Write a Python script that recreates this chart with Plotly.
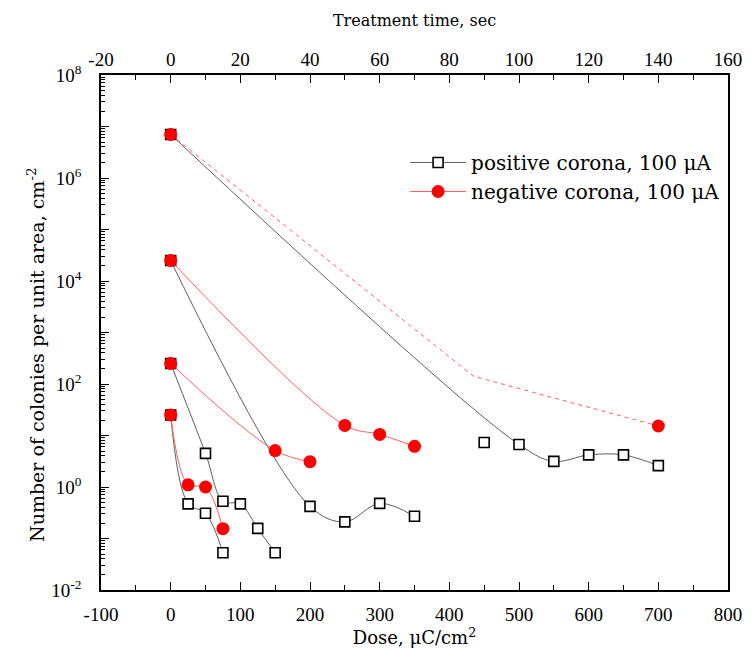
import plotly.graph_objects as go

# ---------------- data ----------------
pos_A_dose = [0, 25, 50, 75]
pos_A_val = [25, 0.47, 0.31, 0.053]
pos_B_dose = [0, 50, 75, 100, 125, 150]
pos_B_val = [250, 4.5, 0.53, 0.47, 0.157, 0.053]
pos_C_dose = [0, 200, 250, 300, 350]
pos_C_val = [25000, 0.42, 0.21, 0.48, 0.27]
pos_D_dose = [0, 450, 500, 550, 600, 650, 700]
pos_D_val = [7e6, 7.3, 6.7, 3.15, 4.2, 4.2, 2.6]
pos_D_fit_idx = [0, 2, 3, 4, 5, 6]   # points the drawn curve passes through

neg_A_dose = [0, 25, 50, 75]
neg_A_val = [25, 1.1, 1.0, 0.155]
neg_B_dose = [0, 150, 200]
neg_B_val = [250, 5.1, 3.1]
neg_C_dose = [0, 250, 300, 350]
neg_C_val = [25000, 15.7, 10.5, 6.15]
neg_D_dose = [0, 700]
neg_D_val = [7e6, 15.3]
neg_D_guide_dose = [0, 435, 700]
neg_D_guide_val = [7e6, 141, 15.3]

dose_ticks = list(range(-100, 801, 100))
time_ticks = list(range(-20, 161, 20))
dose_per_sec = 5.0  # 100 uA corona: time axis = dose / 5

TICKFONT = "Liberation Serif"
TEXTFONT = "DejaVu Serif"
BLACK_LINE = "rgb(95,95,95)"
RED_LINE = "rgb(255,95,95)"

sq_fill = dict(symbol="square", size=10, color="white", line=dict(width=1.6, color="black"))
red_marker = dict(symbol="circle", size=13, color="red", line=dict(width=0))

fig = go.Figure()

# ---- positive corona (black squares) ----
pos_groups = [(pos_A_dose, pos_A_val), (pos_B_dose, pos_B_val), (pos_C_dose, pos_C_val)]
for i, (d, v) in enumerate(pos_groups):
    fig.add_trace(go.Scatter(
        x=d, y=v, mode="lines+markers",
        line=dict(color=BLACK_LINE, width=1, shape="spline"),
        marker=sq_fill, name="positive corona, 100 \u03bcA",
        showlegend=(i == 0)))
fig.add_trace(go.Scatter(
    x=[pos_D_dose[k] for k in pos_D_fit_idx], y=[pos_D_val[k] for k in pos_D_fit_idx],
    mode="lines", line=dict(color=BLACK_LINE, width=1, shape="spline"),
    showlegend=False, hoverinfo="skip"))
fig.add_trace(go.Scatter(
    x=pos_D_dose, y=pos_D_val, mode="markers", marker=sq_fill, showlegend=False))

# ---- negative corona (red circles) ----
neg_groups = [(neg_A_dose, neg_A_val), (neg_B_dose, neg_B_val), (neg_C_dose, neg_C_val)]
for i, (d, v) in enumerate(neg_groups):
    fig.add_trace(go.Scatter(
        x=d, y=v, mode="lines+markers",
        line=dict(color=RED_LINE, width=1, shape="spline"),
        marker=red_marker, name="negative corona, 100 \u03bcA",
        showlegend=(i == 0)))
fig.add_trace(go.Scatter(
    x=neg_D_guide_dose, y=neg_D_guide_val, mode="lines",
    line=dict(color=RED_LINE, width=1, dash="4px,4px"),
    showlegend=False, hoverinfo="skip"))
fig.add_trace(go.Scatter(
    x=neg_D_dose, y=neg_D_val, mode="markers", marker=red_marker, showlegend=False))

# invisible trace to carry the top (time) axis
fig.add_trace(go.Scatter(
    x=[d / dose_per_sec for d in pos_D_dose], y=pos_D_val, xaxis="x2",
    mode="markers", marker=dict(opacity=0), showlegend=False, hoverinfo="skip"))

decades = list(range(-2, 9))
ytickvals = [10.0 ** k for k in decades]
yticktext = ["10<sup>%d</sup>" % k if k % 2 == 0 else "" for k in decades]
yminor = [m * 10.0 ** k for k in range(-2, 8) for m in range(2, 10)]

tickfont = dict(family=TICKFONT, size=19, color="black")
axis_common = dict(showline=True, linecolor="black", linewidth=1.8, showgrid=False,
                   zeroline=False, ticks="inside", tickcolor="black", tickwidth=1.3)

fig.update_layout(
    width=754, height=670,
    margin=dict(l=101, r=16, t=75, b=80),
    paper_bgcolor="white", plot_bgcolor="white",
    font=dict(family=TEXTFONT, size=16, color="black"),
    xaxis=dict(range=[dose_ticks[0], dose_ticks[-1]], tickmode="array", tickvals=dose_ticks,
               ticktext=[str(t) for t in dose_ticks], ticklen=8, ticklabelstandoff=6,
               minor=dict(ticks="inside", dtick=50, tick0=0, ticklen=5, tickcolor="black"),
               tickfont=tickfont,
               title=dict(text="Dose, \u03bcC/cm<sup>2</sup>", font=dict(family=TEXTFONT, size=18), standoff=8),
               **axis_common),
    xaxis2=dict(range=[time_ticks[0], time_ticks[-1]], tickmode="array", tickvals=time_ticks,
                ticktext=[str(t) for t in time_ticks],
                overlaying="x", side="top", ticklen=8,
                minor=dict(ticks="inside", dtick=10, tick0=0, ticklen=5, tickcolor="black"),
                tickfont=tickfont,
                title=dict(text="Treatment time, sec", font=dict(family=TEXTFONT, size=16), standoff=18),
                **axis_common),
    yaxis=dict(type="log", range=[-2, 8], tickmode="array", tickvals=ytickvals, ticktext=yticktext,
               ticklen=8, mirror=True, ticklabelstandoff=14,
               minor=dict(ticks="inside", tickmode="array", tickvals=yminor, ticklen=4, tickcolor="black"),
               tickfont=tickfont,
               **axis_common),
    legend=dict(x=0.485, y=0.868, xanchor="left", yanchor="top",
                bgcolor="rgba(0,0,0,0)", font=dict(family=TEXTFONT, size=20),
                itemwidth=56, tracegroupgap=0),
    showlegend=True,
    annotations=[dict(text="Number of colonies per unit area, cm<sup>-2</sup>",
                      xref="paper", yref="paper", x=-0.104, y=0.456,
                      xanchor="center", yanchor="middle", textangle=-90, showarrow=False,
                      font=dict(family=TEXTFONT, size=19, color="black"))],
)

fig.write_html("out.html")
